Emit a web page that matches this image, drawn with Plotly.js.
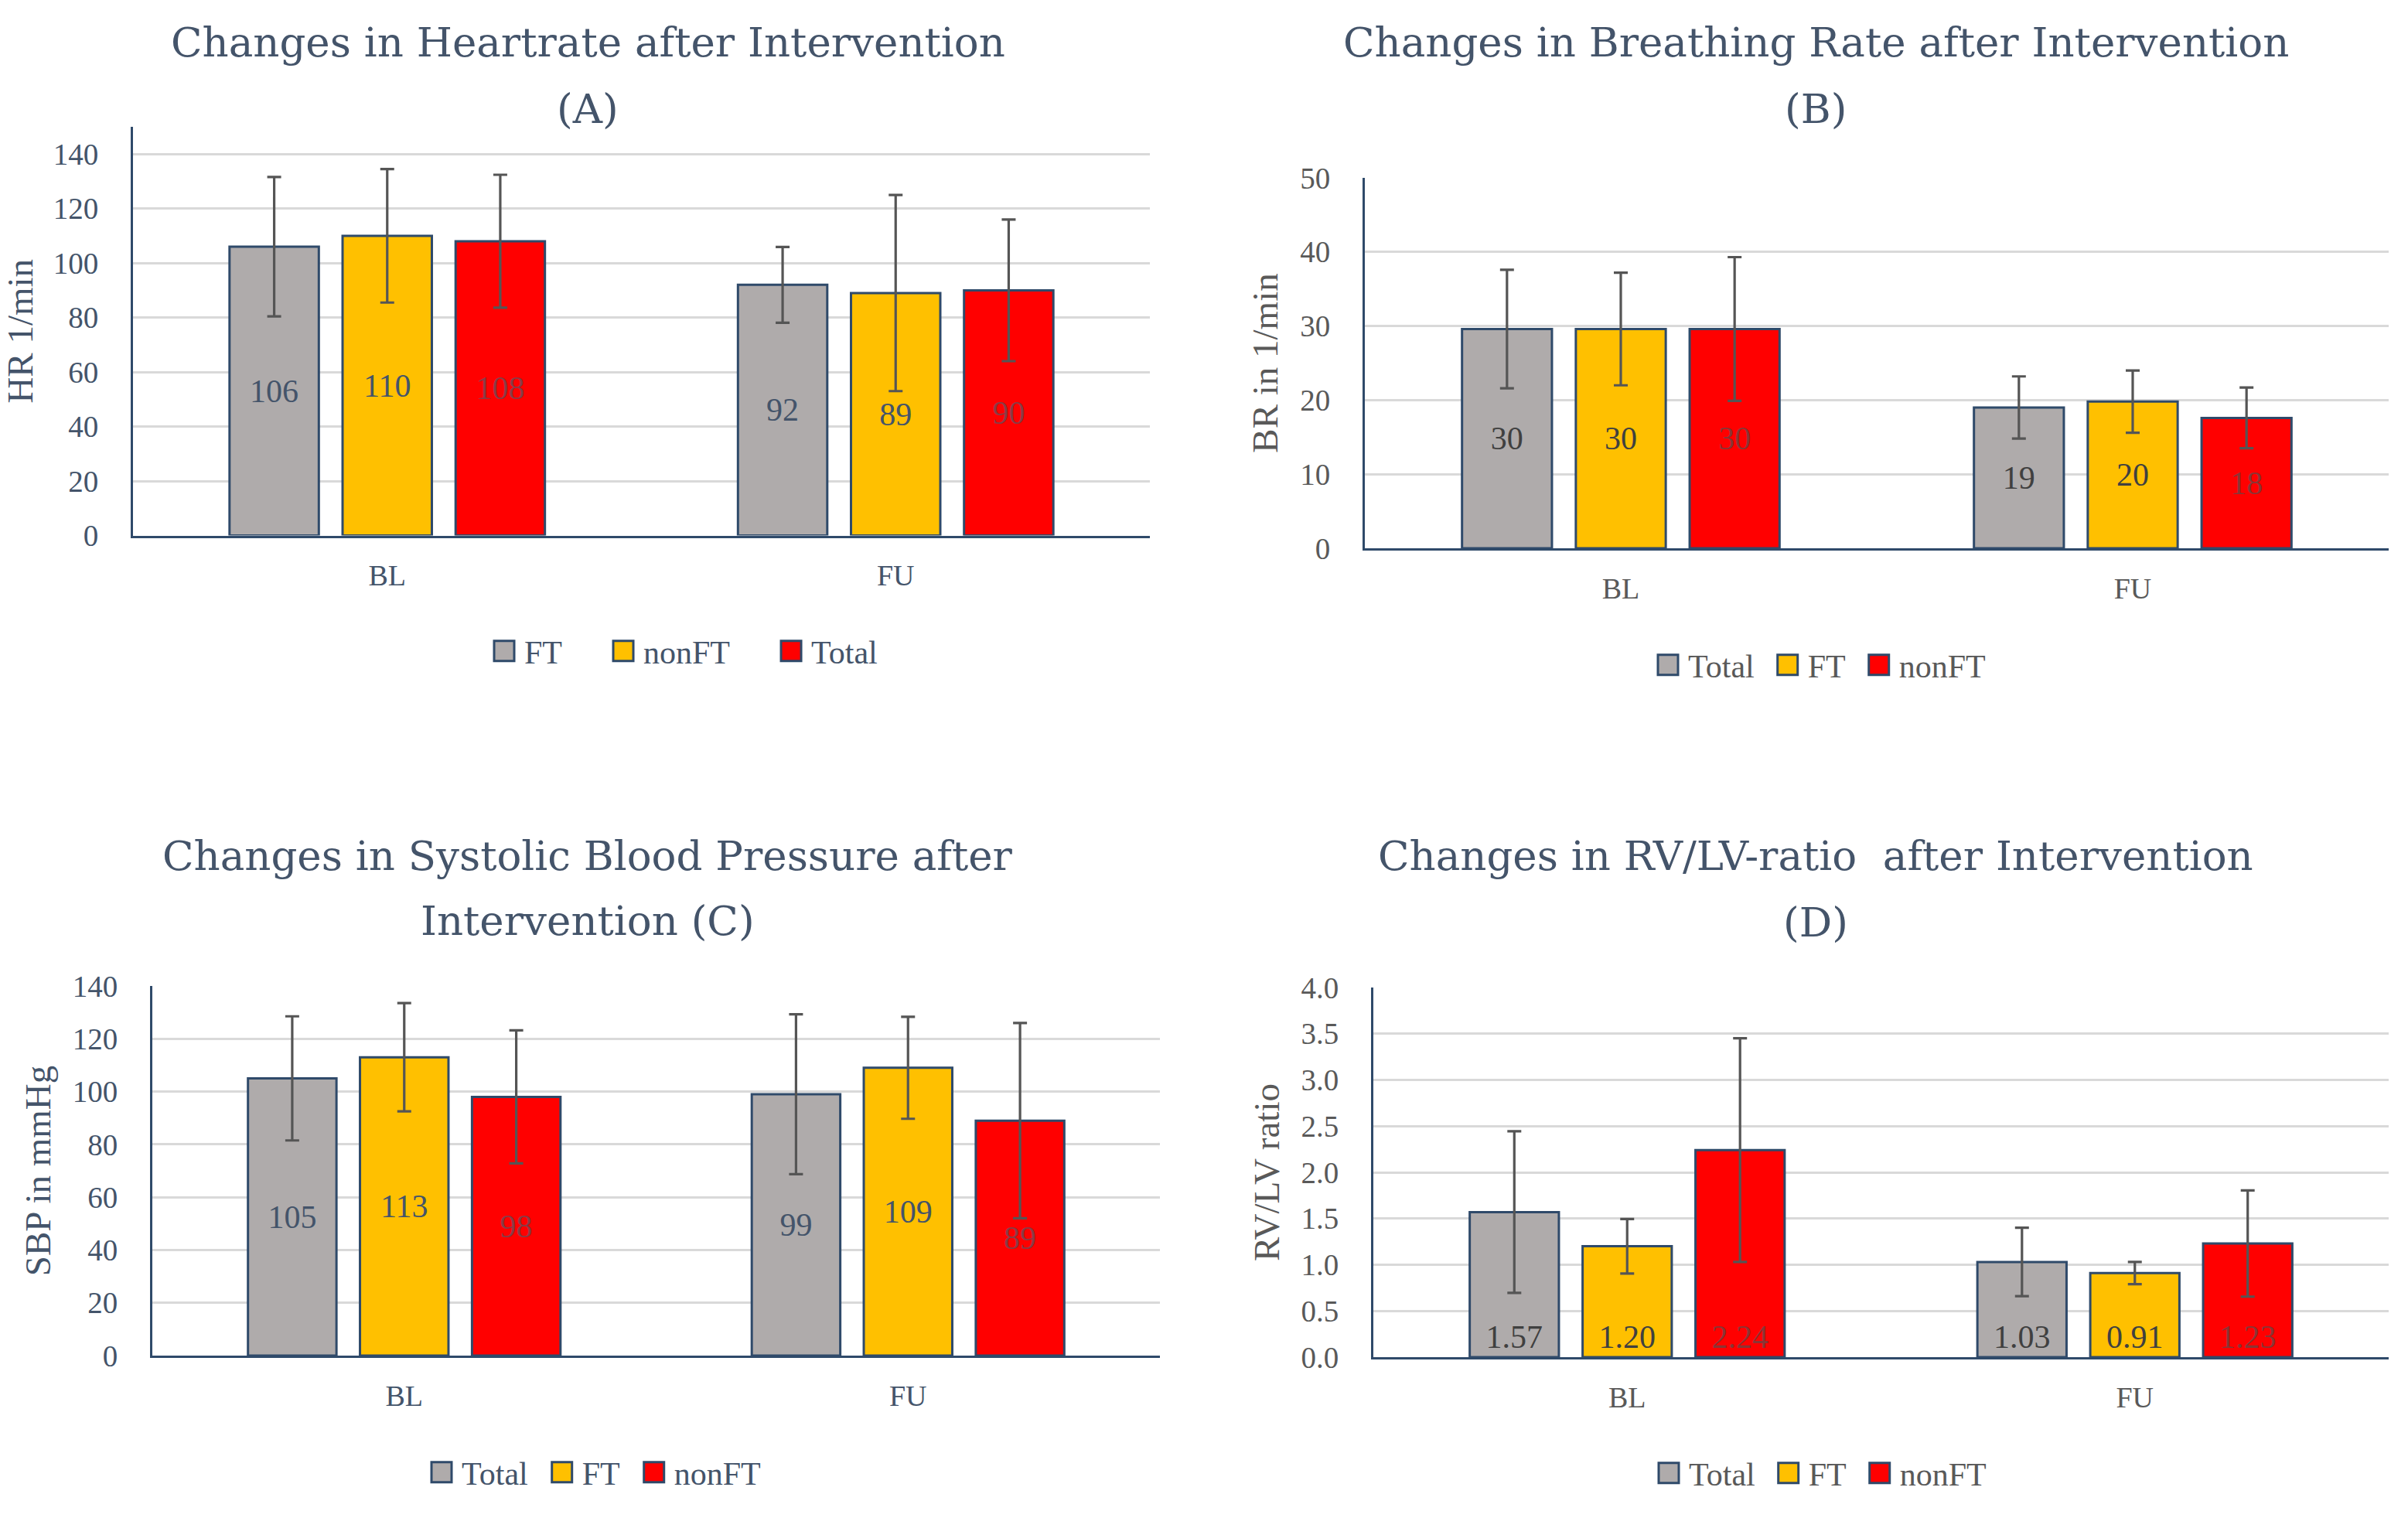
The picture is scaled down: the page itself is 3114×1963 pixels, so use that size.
<!DOCTYPE html>
<html><head><meta charset="utf-8">
<script src="https://cdn.plot.ly/plotly-3.0.1.min.js"></script>
<style>html,body{margin:0;padding:0;background:#fff}#chart{width:3114px;height:1963px}</style>
</head><body><div id="chart"></div>
<script>
// ---------- data ----------
const categories = ['BL', 'FU'];

// (A) Heart rate
const hrNames = ['FT', 'nonFT', 'Total'];
const hrFT = [106, 92];
const hrNonFT = [110, 89];
const hrTotal = [108, 90];
const hrFTsd = [25.6, 13.9];
const hrNonFTsd = [24.5, 36];
const hrTotalsd = [24.4, 26];

// (B) Breathing rate
const brNames = ['Total', 'FT', 'nonFT'];
const brTotal = [29.6, 19.0];
const brFT = [29.6, 19.8];
const brNonFT = [29.6, 17.6];
const brTotalsd = [8.0, 4.2];
const brFTsd = [7.6, 4.2];
const brNonFTsd = [9.7, 4.1];

// (C) Systolic blood pressure
const sbpNames = ['Total', 'FT', 'nonFT'];
const sbpTotal = [105, 99];
const sbpFT = [113, 109];
const sbpNonFT = [98, 89];
const sbpTotalsd = [23.5, 30.3];
const sbpFTsd = [20.5, 19.3];
const sbpNonFTsd = [25.2, 37];

// (D) RV/LV ratio
const rvNames = ['Total', 'FT', 'nonFT'];
const rvTotal = [1.57, 1.03];
const rvFT = [1.20, 0.91];
const rvNonFT = [2.24, 1.23];
const rvTotalsd = [0.875, 0.37];
const rvFTsd = [0.295, 0.12];
const rvNonFTsd = [1.21, 0.575];

// ---------- styles ----------
const W = 3114, H = 1963;
const barColors = ['#AFABAB', '#FFC000', '#FF0000'];
const outline = '#2F4A6A';
const slate = '#44546A';
const gray = '#595959';
const serifTitle = 'DejaVu Serif';
const serif = 'Liberation Serif';

function px(x) { return x / W; }
function py(y) { return 1 - y / H; }

function group(xa, ya, names, vals, sds, legendId, labelColors, anchor, fmt) {
  return names.map((n, i) => ({
    type: 'bar', x: categories, y: vals[i], name: n,
    xaxis: xa, yaxis: ya, legend: legendId,
    marker: { color: barColors[i], line: { color: outline, width: 3 } },
    error_y: { type: 'data', array: sds[i], visible: true, color: '#555555', thickness: 3.2, width: 9 },
    texttemplate: fmt, textposition: 'inside', insidetextanchor: anchor,
    textfont: { family: serif, size: 42, color: labelColors[i] },
    hoverinfo: 'skip'
  }));
}

const data = [].concat(
  group('x', 'y', hrNames, [hrFT, hrNonFT, hrTotal], [hrFTsd, hrNonFTsd, hrTotalsd], 'legend',
        [slate, slate, '#8a3b45'], 'middle', '%{y:.0f}'),
  group('x2', 'y2', brNames, [brTotal, brFT, brNonFT], [brTotalsd, brFTsd, brNonFTsd], 'legend2',
        ['#404040', '#404040', '#8a3535'], 'middle', '%{y:.0f}'),
  group('x3', 'y3', sbpNames, [sbpTotal, sbpFT, sbpNonFT], [sbpTotalsd, sbpFTsd, sbpNonFTsd], 'legend3',
        [slate, slate, '#8a3b45'], 'middle', '%{y:.0f}'),
  group('x4', 'y4', rvNames, [rvTotal, rvFT, rvNonFT], [rvTotalsd, rvFTsd, rvNonFTsd], 'legend4',
        ['#404040', '#404040', '#8a3535'], 'start', '%{y:.2f}')
);

function xax(domain, anchor, color) {
  return {
    domain: domain, anchor: anchor, type: 'category',
    showline: true, linecolor: outline, linewidth: 3, showgrid: false, zeroline: false,
    ticks: '', ticklabelstandoff: 16,
    tickfont: { family: serif, size: 38, color: color }, fixedrange: true
  };
}
function yax(domain, anchor, range, dtick, fmt, title, color) {
  return {
    domain: domain, anchor: anchor, range: range, dtick: dtick, tick0: 0, tickformat: fmt,
    showline: true, linecolor: outline, linewidth: 3,
    showgrid: true, gridcolor: '#D9D9D9', gridwidth: 3, zeroline: false,
    ticks: '', ticklabelstandoff: 34,
    tickfont: { family: serif, size: 39, color: color },
    title: { text: title, font: { family: serif, size: 47, color: color }, standoff: 14 },
    fixedrange: true
  };
}

function legendAt(cx, cy, color) {
  return {
    orientation: 'h', x: px(cx), xanchor: 'center', y: py(cy), yanchor: 'middle',
    font: { family: serif, size: 42, color: color }, bgcolor: 'rgba(0,0,0,0)',
    traceorder: 'normal', itemclick: false, itemdoubleclick: false
  };
}

function title(text, cx, cy) {
  return {
    xref: 'paper', yref: 'paper', x: px(cx), y: py(cy), text: text, showarrow: false,
    xanchor: 'center', yanchor: 'middle',
    font: { family: serifTitle, size: 53, color: slate }
  };
}

const layout = {
  width: W, height: H, margin: { l: 0, r: 0, t: 0, b: 0 },
  paper_bgcolor: '#ffffff', plot_bgcolor: '#ffffff',
  barmode: 'group', bargap: 0.333, bargroupgap: 0.21,
  showlegend: true,
  xaxis: xax([px(172), px(1487)], 'y', slate),
  yaxis: yax([py(692.5), py(164)], 'x', [0, 150], 20, 'd', 'HR 1/min', slate),
  xaxis2: xax([px(1765), px(3089)], 'y2', gray),
  yaxis2: yax([py(709), py(230)], 'x2', [0, 50], 10, 'd', 'BR in 1/min', gray),
  xaxis3: xax([px(197), px(1500)], 'y3', slate),
  yaxis3: yax([py(1753), py(1275)], 'x3', [0, 140], 20, 'd', 'SBP in mmHg', slate),
  xaxis4: xax([px(1776), px(3089)], 'y4', gray),
  yaxis4: yax([py(1755), py(1277)], 'x4', [0, 4], 0.5, '.1f', 'RV/LV ratio', gray),
  legend: legendAt(886, 842, slate),
  legend2: legendAt(2355, 860, gray),
  legend3: legendAt(770, 1904, slate),
  legend4: legendAt(2356, 1905, gray),
  annotations: [
    title('Changes in Heartrate after Intervention', 760, 54),
    title('(A)', 760, 140),
    title('Changes in Breathing Rate after Intervention', 2348, 54),
    title('(B)', 2348, 140),
    title('Changes in Systolic Blood Pressure after', 760, 1106),
    title('Intervention (C)', 760, 1190),
    title('Changes in RV/LV-ratio  after Intervention', 2348, 1106),
    title('(D)', 2348, 1192)
  ]
};

// extra spacing between legend entries (px), per legend
const legendGaps = { legend: 60, legend2: 24, legend3: 25, legend4: 24 };

Plotly.newPlot('chart', data, layout, { staticPlot: true, displayModeBar: false }).then(function () {
  try {
    document.querySelectorAll('#chart .legendpoints path').forEach(function (p) {
      p.setAttribute('d', 'M7,13H-19V-13H7Z');
    });
    Object.keys(legendGaps).forEach(function (id) {
      const g = document.querySelector('#chart g.' + id);
      if (!g) return;
      g.querySelectorAll('[clip-path]').forEach(function (el) { el.removeAttribute('clip-path'); });
      const items = g.querySelectorAll('g.traces');
      const n = items.length, gap = legendGaps[id];
      items.forEach(function (t, i) {
        const tr = t.getAttribute('transform') || '';
        const m = tr.match(/translate\(\s*([-\d.eE]+)[ ,]+([-\d.eE]+)\s*\)/);
        if (!m) return;
        const nx = parseFloat(m[1]) + i * gap - gap * (n - 1) / 2 + 3;
        t.setAttribute('transform', 'translate(' + nx + ',' + m[2] + ')');
      });
      const bg = g.querySelector('rect.bg');
      if (bg) bg.setAttribute('visibility', 'hidden');
    });
  } catch (e) {}
});
</script>
</body></html>
